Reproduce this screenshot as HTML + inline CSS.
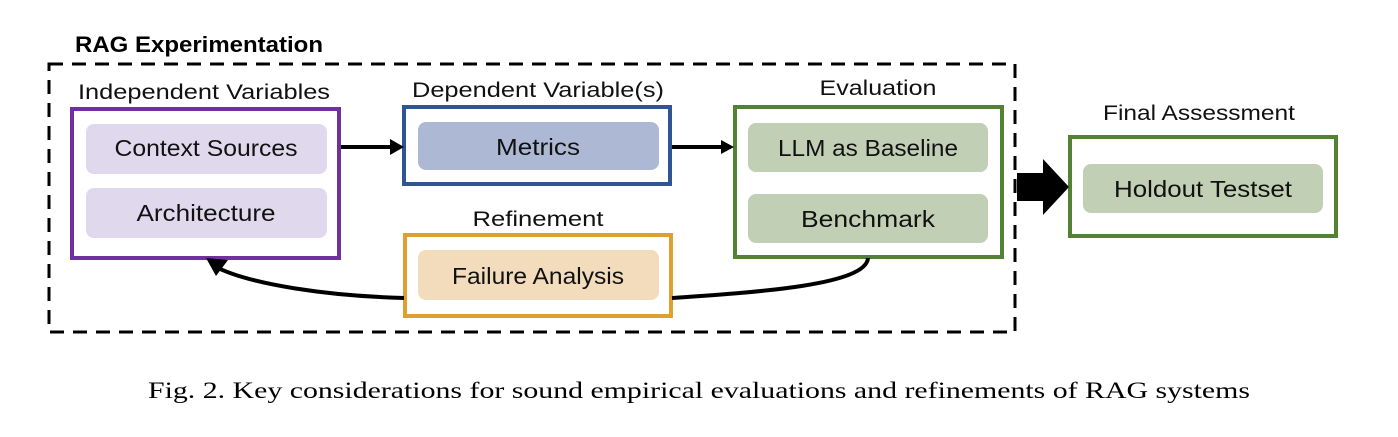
<!DOCTYPE html>
<html><head><meta charset="utf-8"><style>
body{margin:0;background:#fff;}
svg text{font-family:"Liberation Sans",sans-serif;}
</style></head><body>
<svg width="1398" height="432" viewBox="0 0 1398 432" xmlns="http://www.w3.org/2000/svg">
<rect x="49" y="64" width="966" height="268" fill="none" stroke="#000" stroke-width="3" stroke-dasharray="14,9"/>
<text x="75" y="52" font-size="22" font-weight="bold" textLength="248" lengthAdjust="spacingAndGlyphs">RAG Experimentation</text>
<g font-size="21" text-anchor="middle" fill="#111">
<text x="204" y="99" textLength="252" lengthAdjust="spacingAndGlyphs">Independent Variables</text>
<text x="538" y="97" textLength="252" lengthAdjust="spacingAndGlyphs">Dependent Variable(s)</text>
<text x="878" y="95" textLength="117" lengthAdjust="spacingAndGlyphs">Evaluation</text>
<text x="538" y="226" textLength="131" lengthAdjust="spacingAndGlyphs">Refinement</text>
<text x="1199" y="120" textLength="192" lengthAdjust="spacingAndGlyphs">Final Assessment</text>
</g>
<rect x="72" y="109" width="267" height="149" fill="#fff" stroke="#7030a0" stroke-width="4"/>
<rect x="86" y="124" width="241" height="50" rx="8" fill="#e0d8ec"/>
<rect x="86" y="188" width="241" height="50" rx="8" fill="#e0d8ec"/>
<rect x="404" y="107" width="266" height="77" fill="#fff" stroke="#2f5597" stroke-width="4"/>
<rect x="418" y="122" width="241" height="48" rx="8" fill="#adb9d4"/>
<rect x="735" y="107" width="267" height="150" fill="#fff" stroke="#548235" stroke-width="4"/>
<rect x="748" y="123" width="240" height="49" rx="8" fill="#c1d0b5"/>
<rect x="748" y="194" width="240" height="49" rx="8" fill="#c1d0b5"/>
<rect x="405" y="235" width="266" height="81" fill="#fff" stroke="#e0a030" stroke-width="4"/>
<rect x="418" y="250" width="241" height="50" rx="8" fill="#f3dcbb"/>
<rect x="1070" y="137" width="266" height="99" fill="#fff" stroke="#548235" stroke-width="4"/>
<rect x="1083" y="164" width="240" height="49" rx="8" fill="#c1d0b5"/>
<g font-size="23" text-anchor="middle" fill="#111">
<text x="206" y="156" textLength="183" lengthAdjust="spacingAndGlyphs">Context Sources</text>
<text x="206" y="221" textLength="139" lengthAdjust="spacingAndGlyphs">Architecture</text>
<text x="538" y="155" textLength="84" lengthAdjust="spacingAndGlyphs">Metrics</text>
<text x="868" y="156" textLength="180" lengthAdjust="spacingAndGlyphs">LLM as Baseline</text>
<text x="868" y="227" textLength="134" lengthAdjust="spacingAndGlyphs">Benchmark</text>
<text x="538" y="284" textLength="172" lengthAdjust="spacingAndGlyphs">Failure Analysis</text>
<text x="1203" y="197" textLength="178" lengthAdjust="spacingAndGlyphs">Holdout Testset</text>
</g>
<line x1="341" y1="147" x2="392" y2="147" stroke="#000" stroke-width="4"/>
<polygon points="390,139 404,147 390,155" fill="#000"/>
<line x1="672" y1="147" x2="723" y2="147" stroke="#000" stroke-width="4"/>
<polygon points="721,140 734,147 721,154" fill="#000"/>
<path d="M868,258 C866,285 760,292 672,298" fill="none" stroke="#000" stroke-width="4"/>
<path d="M404,298 C330,296 250,285 214,266" fill="none" stroke="#000" stroke-width="4"/>
<polygon points="206,258 228,260 216,276" fill="#000"/>
<polygon points="1017,173 1043,173 1043,159 1069,187 1043,215 1043,201 1017,201" fill="#000"/>
<text x="699" y="398" font-size="23" text-anchor="middle" textLength="1102" lengthAdjust="spacingAndGlyphs" style="font-family:'Liberation Serif',serif">Fig. 2.  Key considerations for sound empirical evaluations and refinements of RAG systems</text>
</svg>
</body></html>
